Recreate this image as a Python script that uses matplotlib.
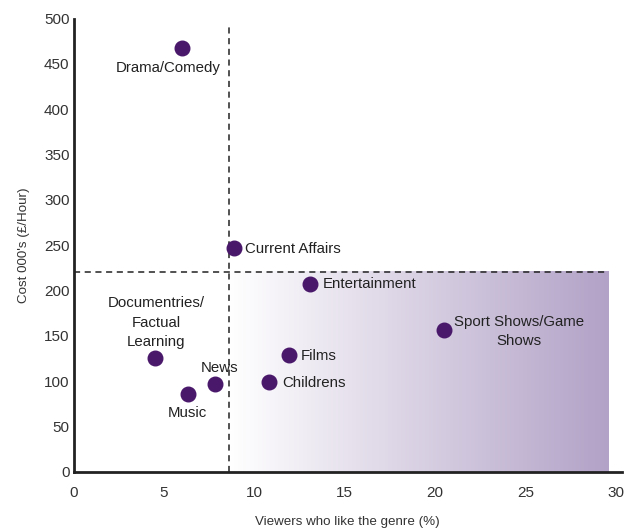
import matplotlib.pyplot as plt
import numpy as np
from matplotlib.colors import LinearSegmentedColormap

plt.rcParams['font.family'] = ['Liberation Sans', 'DejaVu Sans']

genres = ['Drama/Comedy', 'Current Affairs', 'Entertainment', 'Sport Shows/Game\nShows',
          'Documentries/\nFactual\nLearning', 'Films', 'News', 'Childrens', 'Music']
viewers = [6.0, 8.9, 13.1, 20.5, 4.5, 11.9, 7.8, 10.8, 6.3]
cost = [468, 247, 207, 157, 126, 129, 97, 99, 86]

# label offsets (pixels) and alignment per genre
offsets = [(-14, -20, 'center'), (11, -1, 'left'), (12, 0, 'left'), (10, -2, 'left'),
           (1, 35, 'center'), (12, -1, 'left'), (5, 16, 'center'), (13, -1, 'left'),
           (0, -19, 'center')]

x_cut = 8.6
y_cut = 221

fig = plt.figure(figsize=(6.25, 5.32), dpi=100)
ax = fig.add_axes([0.118, 0.113, 0.877, 0.852])

# shaded region: high viewers, low cost
cmap = LinearSegmentedColormap.from_list('shade', ['#ffffff', '#b2a2c7'])
grad = np.linspace(0, 1, 256).reshape(1, -1)
ax.imshow(grad, cmap=cmap, extent=[x_cut, 29.6, 0, y_cut], aspect='auto', zorder=0)

ax.axvline(x_cut, ymin=0, ymax=493 / 500, color='#222222', ls=(0, (4, 3)), lw=1.1, zorder=1)
ax.plot([0, 29.6], [y_cut, y_cut], color='#222222', ls=(0, (4, 3)), lw=1.1, zorder=1)

ax.scatter(viewers, cost, s=110, color='#4a186b', zorder=3)

for g, xv, yv, (dx, dy, ha) in zip(genres, viewers, cost, offsets):
    ax.annotate(g, (xv, yv), xytext=(dx, dy), textcoords='offset pixels',
                ha=ha, va='center', multialignment='center', fontsize=10.8,
                color='#222222', linespacing=1.5)

ax.set_xlim(0, 30.35)
ax.set_ylim(0, 500)
ax.set_xticks(range(0, 31, 5))
ax.set_yticks(range(0, 501, 50))
ax.tick_params(length=0, labelsize=11, labelcolor='#333333')
ax.tick_params(axis='y', pad=3)
ax.tick_params(axis='x', pad=10)
for s in ['top', 'right']:
    ax.spines[s].set_visible(False)
for s in ['left', 'bottom']:
    ax.spines[s].set_linewidth(2)
    ax.spines[s].set_color('#222222')

ax.set_xlabel('Viewers who like the genre (%)', fontsize=9.6, color='#333333', labelpad=12)
ax.set_ylabel("Cost 000's (£/Hour)", fontsize=9.6, color='#333333', labelpad=10)

plt.savefig('out.png', dpi=100)
